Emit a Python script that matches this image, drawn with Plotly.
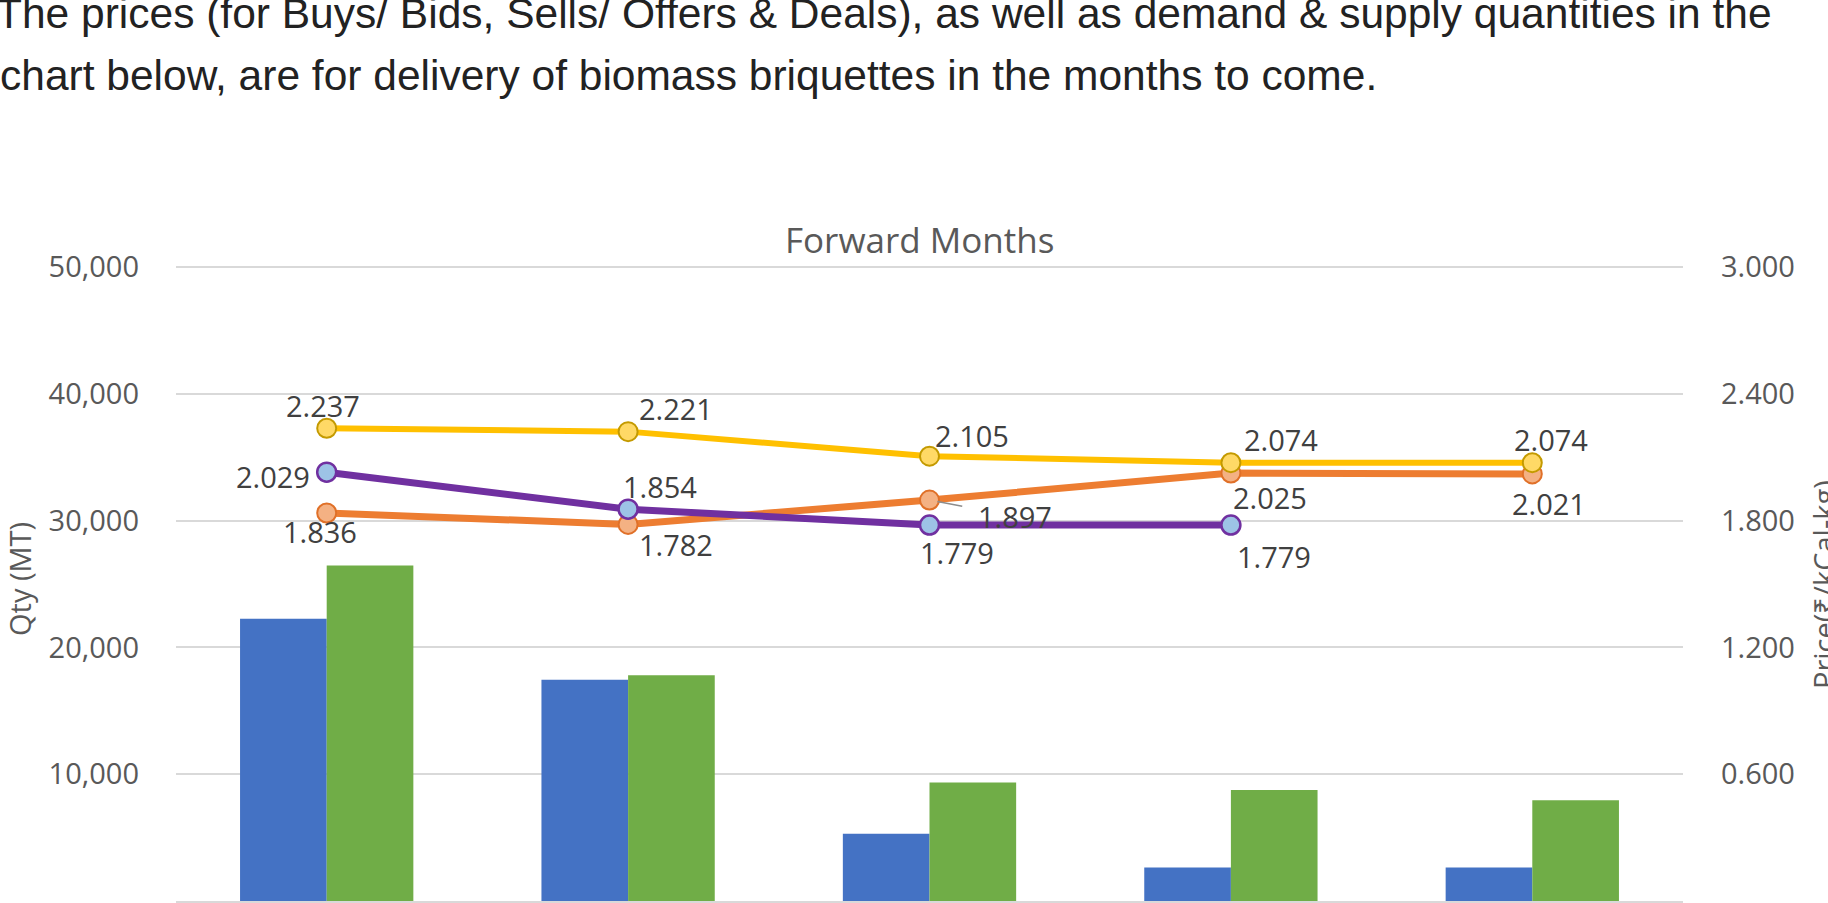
import plotly.graph_objects as go

# ---------------- data ----------------
months = ["Month 1", "Month 2", "Month 3", "Month 4", "Month 5"]
demand_qty = [22250, 17450, 5300, 2650, 2650]      # blue bars (MT)
supply_qty = [26450, 17800, 9350, 8750, 7950]      # green bars (MT)
offer_price = [2.237, 2.221, 2.105, 2.074, 2.074]  # yellow line
deal_price = [1.836, 1.782, 1.897, 2.025, 2.021]   # orange line
bid_price = [2.029, 1.854, 1.779, 1.779]           # purple line (4 months)
qty_ticks = [0, 10000, 20000, 30000, 40000, 50000]
price_ticks = [0, 0.6, 1.2, 1.8, 2.4, 3.0]

intro_line1 = "The prices (for Buys/ Bids, Sells/ Offers & Deals), as well as demand & supply quantities in the"
intro_line2 = "chart below, are for delivery of biomass briquettes in the months to come."

# ---------------- style ----------------
W, H = 1828, 903
L, R, T, B = 176, 145, 264, 2
PW, PH = W - L - R, H - T - B
TOP_GRID_PX = 267          # pixel row of the 50,000 / 3.000 gridline
ext = PH / (H - B - TOP_GRID_PX)   # small headroom so the top gridline is drawn
FONT = "Open Sans"
GREY = "#595959"

def px_x(px):
    return (px - L) / PW

def px_y(py):
    return (H - B - py) / PH

fig = go.Figure()
fig.add_trace(go.Bar(x=months, y=demand_qty, name="Demand Qty", marker_color="#4472C4",
                     marker_line_width=0))
fig.add_trace(go.Bar(x=months, y=supply_qty, name="Supply Qty", marker_color="#70AD47",
                     marker_line_width=0))
fig.add_trace(go.Scatter(x=months, y=deal_price, name="Deals", yaxis="y2", mode="lines+markers",
                         line=dict(color="#ED7D31", width=7),
                         marker=dict(size=19, color="#F4B183", line=dict(color="#E07028", width=2))))
fig.add_trace(go.Scatter(x=months[:len(bid_price)], y=bid_price, name="Buys/ Bids", yaxis="y2",
                         mode="lines+markers", line=dict(color="#7030A0", width=7),
                         marker=dict(size=19, color="#9DC3E6", line=dict(color="#7030A0", width=2.5))))
fig.add_trace(go.Scatter(x=months, y=offer_price, name="Sells/ Offers", yaxis="y2", mode="lines+markers",
                         line=dict(color="#FFC000", width=6),
                         marker=dict(size=19, color="#FFD966", line=dict(color="#C49A00", width=2))))

annotations = []
label_font = dict(family=FONT, size=29, color="#404040")

offer_shift = [(-4, 23), (48, 23), (42, 21), (50, 23), (19, 23)]
deal_shift = [(-7, -19), (48, -20), None, (39, -24), (17, -30)]
bid_shift = [(-54, -4), (32, 23), (27, -27), (43, -31)]

for series, shifts in ((offer_price, offer_shift), (deal_price, deal_shift), (bid_price, bid_shift)):
    for i, v in enumerate(series):
        s = shifts[i]
        if s is None:
            annotations.append(dict(x=months[i], y=v, xref="x", yref="y2", text=f"{v:.3f}",
                                    showarrow=True, arrowhead=0, arrowwidth=1.5, arrowcolor="#8C8C8C",
                                    ax=85, ay=16, standoff=8, startstandoff=14, font=label_font))
        else:
            annotations.append(dict(x=months[i], y=v, xref="x", yref="y2", text=f"{v:.3f}",
                                    showarrow=False, xshift=s[0], yshift=s[1], font=label_font))

# chart title
annotations.append(dict(x=px_x(919), y=px_y(239), xref="paper", yref="paper", text="Forward Months",
                        xanchor="center", yanchor="middle", showarrow=False,
                        font=dict(family=FONT, size=35, color=GREY)))
# axis titles
annotations.append(dict(x=px_x(19), y=px_y(579), xref="paper", yref="paper", text="Qty (MT)",
                        xanchor="center", yanchor="middle", textangle=-90, showarrow=False,
                        font=dict(family=FONT, size=29, color=GREY)))
annotations.append(dict(x=px_x(1823), y=px_y(585), xref="paper", yref="paper", text="Price(₹/kCal-kg)",
                        xanchor="center", yanchor="middle", textangle=-90, showarrow=False,
                        font=dict(family=FONT, size=29, color=GREY)))
# intro text
annotations.append(dict(x=px_x(-6), y=px_y(-12), xref="paper", yref="paper", text=intro_line1,
                        xanchor="left", yanchor="top", showarrow=False,
                        font=dict(family="Liberation Sans", size=42.5, color="#222222")))
annotations.append(dict(x=px_x(-2), y=px_y(50), xref="paper", yref="paper", text=intro_line2,
                        xanchor="left", yanchor="top", showarrow=False,
                        font=dict(family="Liberation Sans", size=42.5, color="#222222")))

fig.update_layout(
    width=W, height=H,
    margin=dict(l=L, r=R, t=T, b=B, autoexpand=False),
    paper_bgcolor="white", plot_bgcolor="white",
    barmode="group", bargap=0.425, bargroupgap=0,
    showlegend=False,
    annotations=annotations,
    xaxis=dict(showticklabels=False, showline=True, linecolor="#D9D9D9", linewidth=2,
               showgrid=False, ticks=""),
    yaxis=dict(range=[0, qty_ticks[-1] * ext], tickvals=qty_ticks, tickformat=",", showgrid=True,
               gridcolor="#D9D9D9", gridwidth=2, zeroline=False, ticks="",
               tickfont=dict(family=FONT, size=29, color=GREY), ticklabelstandoff=36),
    yaxis2=dict(range=[0, price_ticks[-1] * ext], tickvals=price_ticks, tickformat=".3f",
                overlaying="y", side="right", showgrid=False, zeroline=False, ticks="",
                tickfont=dict(family=FONT, size=29, color=GREY), ticklabelstandoff=37),
)

fig.write_html("out.html", config={"displayModeBar": False},
               post_script="document.body.style.margin='0';document.body.style.overflow='hidden';")
